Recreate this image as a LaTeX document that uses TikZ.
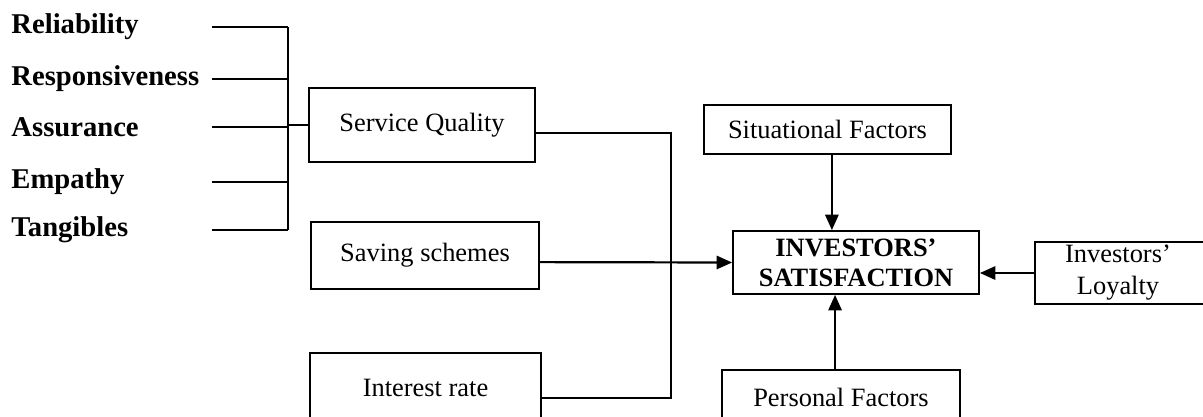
\documentclass[tikz,border=0pt]{standalone}
\usepackage{fontspec}
\setmainfont{Liberation Serif}
\usepackage{tikz}
\usetikzlibrary{arrows.meta}

\begin{document}
\begin{tikzpicture}[x=0.454pt,y=-0.454pt,
    box/.style={shape=rectangle,draw=black,line width=0.8pt,align=center,
      font=\fontsize{12}{14.5}\selectfont,inner sep=0pt},
    dim/.style={font=\fontsize{13}{15}\selectfont\bfseries,anchor=west,inner sep=0pt},
    wire/.style={line width=1pt},
    arr/.style={line width=1pt,-{Triangle[length=7pt,width=6pt]}}]
    \useasboundingbox (0,0) rectangle (1203,416);
    \clip (0,0) rectangle (1203,416);
    % the five dimensions
    \node[dim] (rel) at (11,27) {Reliability};
    \node[dim] (res) at (11,79) {Responsiveness};
    \node[dim] (ass) at (11,127) {Assurance};
    \node[dim] (emp) at (11,182) {Empathy};
    \node[dim] (tan) at (11,230) {Tangibles};
    \coordinate (lx) at (212,0);
    \coordinate (bx) at (288,0);
    \coordinate (jx) at (671,0);
    % boxes
    \node[box,minimum width=102.6pt,minimum height=33.6pt] (sq) at (422,125) {Service Quality};
    \node[box,minimum width=103.5pt,minimum height=30.4pt] (ss) at (425,255.5) {Saving schemes};
    \node[box,minimum width=104.9pt,minimum height=31.8pt] (ir) at (425.5,388) {Interest rate};
    \node[box,minimum width=112.1pt,minimum height=22.2pt] (sit) at (827.5,129.5) {Situational Factors};
    \node[box,minimum width=111.7pt,minimum height=28.6pt,font=\fontsize{12}{13.5}\selectfont\bfseries] (sat) at (856,262.5) {INVESTORS'\\SATISFACTION};
    \node[box,minimum width=84pt,minimum height=28.1pt] (loy) at (1127.5,273) {\hspace*{-8.6pt}Investors'\\\hspace*{-8.6pt}Loyalty};
    \node[box,minimum width=108pt,minimum height=24.5pt] (per) at (841,397) {Personal Factors};
    \coordinate (sqout) at ([yshift=-3.6pt]sq.east);
    \coordinate (irout) at ([yshift=-4.5pt]ir.east);
    % bracket
    \draw[wire] (rel -| lx) -- (rel -| bx);
    \draw[wire] (res -| lx) -- (res -| bx);
    \draw[wire] (ass -| lx) -- (ass -| bx);
    \draw[wire] (emp -| lx) -- (emp -| bx);
    \draw[wire] (tan -| lx) -- (tan -| bx);
    \draw[wire] (rel -| bx) -- (tan -| bx);
    \draw[wire] (sq.west -| bx) -- (sq.west);
    % into satisfaction
    \draw[wire] (sqout) -| (jx |- irout) -- (irout);
    \draw[arr] ([yshift=-3pt]ss.east) -- (sat.west);
    \draw[arr] ([xshift=2pt]sit.south) -- ([xshift=2pt]sit.south |- sat.north);
    \draw[arr] ([xshift=-2.7pt]per.north) -- ([xshift=-2.7pt]per.north |- sat.south);
    \draw[arr] (loy.west) -- (loy.west -| sat.east);
\end{tikzpicture}
\end{document}
